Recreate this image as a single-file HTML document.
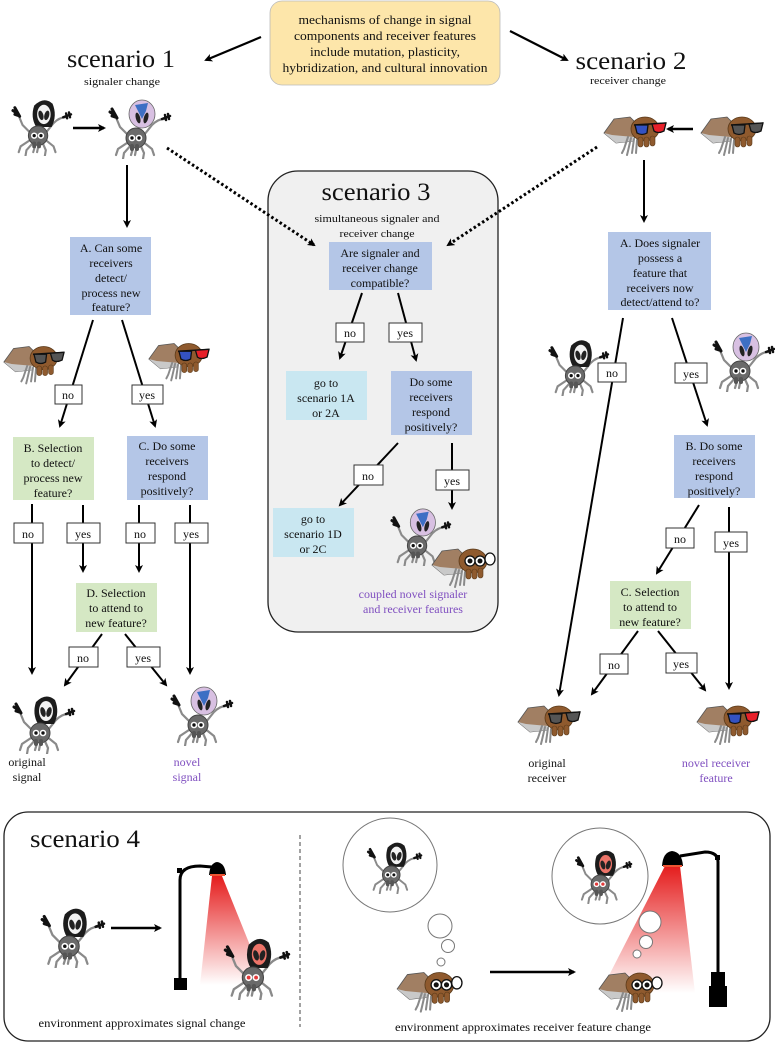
<!DOCTYPE html>
<html><head><meta charset="utf-8"><style>
html,body{margin:0;padding:0;background:#fff;}
svg{display:block;}
text{font-family:"Liberation Serif",serif;fill:#111;}
</style></head><body>
<svg width="775" height="1043" viewBox="0 0 775 1043" xmlns="http://www.w3.org/2000/svg">
<defs>
<marker id="ah" markerWidth="8" markerHeight="8" refX="6" refY="4" orient="auto" markerUnits="userSpaceOnUse">
<path d="M0,0 L8,4 L0,8 L2,4 Z" fill="#000"/></marker>
<linearGradient id="cone" x1="0" y1="0" x2="0" y2="1">
<stop offset="0" stop-color="#e51d1d"/><stop offset="1" stop-color="#e51d1d" stop-opacity="0"/></linearGradient>

<g id="legs">
<path d="M26,44 L14,52 L12,58 M28,47 L20,56 L19,62 M36,47 L40,56 L39,62 M38,44 L48,52 L50,58 M33,48 L31,58 M30,48 L27,58" stroke="#8a8a8a" stroke-width="2.2" fill="none" stroke-linecap="round"/>
<path d="M26,40 L16,30 L11,18 M40,38 L48,28 Q54,22 60,22" stroke="#8a8a8a" stroke-width="2.2" fill="none" stroke-linecap="round"/>
<path d="M8,12 L13,21 M9,17 L6,15 M11,20 L8,19" stroke="#111" stroke-width="3" stroke-linecap="round"/>
<path d="M58,22 L66,19 M61,18 L62,23 M64,17 L65,22" stroke="#111" stroke-width="2.5" stroke-linecap="round"/>
</g>
<g id="bodyN">
<circle cx="32" cy="41" r="10" fill="#6a6a6a" stroke="#444" stroke-width="1"/>
<rect x="26" y="47" width="4" height="7" rx="2" fill="#555"/><rect x="31" y="47" width="4" height="7" rx="2" fill="#555"/>
</g>
<symbol id="sigO" viewBox="0 0 68 62">
<use href="#legs"/>
<path d="M28,10 Q38,0 47,8 Q52,20 46,32 L30,32 Q24,22 28,10 Z" fill="#1c1c1c"/>
<ellipse cx="38" cy="19" rx="7" ry="10" fill="#f2f2f2"/>
<ellipse cx="35" cy="20" rx="2.5" ry="5" fill="#222" transform="rotate(-15 35 20)"/>
<ellipse cx="41" cy="20" rx="2.5" ry="5" fill="#222" transform="rotate(15 41 20)"/>
<use href="#bodyN"/>
<circle cx="28" cy="41" r="3.3" fill="#fff"/><circle cx="35" cy="41" r="3.3" fill="#fff"/>
<circle cx="28" cy="41" r="1.7" fill="#111"/><circle cx="35" cy="41" r="1.7" fill="#111"/>
</symbol>
<symbol id="sigR" viewBox="0 0 68 62">
<use href="#legs"/>
<path d="M28,10 Q38,0 47,8 Q52,20 46,32 L30,32 Q24,22 28,10 Z" fill="#1c1c1c"/>
<ellipse cx="38" cy="19" rx="7" ry="10" fill="#ec7469"/>
<ellipse cx="35" cy="20" rx="2.5" ry="5" fill="#222" transform="rotate(-15 35 20)"/>
<ellipse cx="41" cy="20" rx="2.5" ry="5" fill="#222" transform="rotate(15 41 20)"/>
<use href="#bodyN"/>
<circle cx="28" cy="41" r="3.3" fill="#fff"/><circle cx="35" cy="41" r="3.3" fill="#fff"/>
<circle cx="28" cy="41" r="1.8" fill="#e23a3a"/><circle cx="35" cy="41" r="1.8" fill="#e23a3a"/>
</symbol>
<symbol id="sigN" viewBox="0 0 68 62">
<use href="#legs"/>
<ellipse cx="38" cy="17" rx="13" ry="14" fill="#d8c0e2" stroke="#666" stroke-width="0.8"/>
<path d="M31,8 L44,6 L42,14 L38,22 L34,14 Z" fill="#3d6fc4"/>
<ellipse cx="34" cy="21" rx="2.2" ry="5.5" fill="#222" transform="rotate(-15 34 21)"/>
<ellipse cx="42" cy="21" rx="2.2" ry="5.5" fill="#222" transform="rotate(15 42 21)"/>
<use href="#bodyN"/>
<circle cx="28" cy="41" r="3.3" fill="#fff"/><circle cx="35" cy="41" r="3.3" fill="#fff"/>
<circle cx="28" cy="41" r="1.7" fill="#111"/><circle cx="35" cy="41" r="1.7" fill="#111"/>
</symbol>

<g id="rbody">
<path d="M4,22 L14,8 L30,6 L36,12 L34,30 L16,32 Z" fill="#a17f63" stroke="#555" stroke-width="0.8"/>
<path d="M4,22 L16,32 L34,30 L34,26 L12,24 Z" fill="#c9c9c9"/>
<path d="M28,26 L24,38 L22,42 M31,27 L28,40 L27,44 M34,28 L32,42 M37,29 L36,42" stroke="#8a8a8a" stroke-width="2" fill="none" stroke-linecap="round"/>
<ellipse cx="45" cy="18" rx="14" ry="12" fill="#8f5a2e" stroke="#5a3a1a" stroke-width="0.8"/>
<rect x="38" y="26" width="5" height="10" rx="2.5" fill="#8f5a2e" stroke="#5a3a1a" stroke-width="0.6"/>
<rect x="44" y="26" width="5" height="10" rx="2.5" fill="#8f5a2e" stroke="#5a3a1a" stroke-width="0.6"/>
<rect x="50" y="25" width="5" height="10" rx="2.5" fill="#8f5a2e" stroke="#5a3a1a" stroke-width="0.6"/>
</g>
<symbol id="recG" viewBox="0 0 68 46"><use href="#rbody"/>
<path d="M34,14 L66,12" stroke="#111" stroke-width="1.5"/>
<path d="M35,14 L48,14 L47,22 Q42,25 37,22 Z" fill="#555" stroke="#111" stroke-width="1.3"/>
<path d="M52,13 L66,12 L64,20 Q58,23 54,20 Z" fill="#555" stroke="#111" stroke-width="1.3"/></symbol>
<symbol id="rec3" viewBox="0 0 68 46"><use href="#rbody"/>
<path d="M34,14 L66,12" stroke="#111" stroke-width="1.5"/>
<path d="M35,14 L48,14 L47,22 Q42,25 37,22 Z" fill="#3452c2" stroke="#111" stroke-width="1.3"/>
<path d="M52,13 L66,12 L64,20 Q58,23 54,20 Z" fill="#e8202a" stroke="#111" stroke-width="1.3"/></symbol>
<symbol id="recC" viewBox="0 0 68 46"><use href="#rbody"/>
<circle cx="42" cy="18" r="5" fill="#fff" stroke="#111" stroke-width="1.3"/><circle cx="42" cy="18" r="2.5" fill="#111"/>
<circle cx="52" cy="18" r="5" fill="#fff" stroke="#111" stroke-width="1.3"/><circle cx="52" cy="18" r="2.5" fill="#111"/>
<path d="M57,16 L66,12" stroke="#111" stroke-width="1.3"/>
<ellipse cx="62" cy="16" rx="5" ry="6" fill="#fff" stroke="#111" stroke-width="1.3"/></symbol>
</defs>

<rect x="270" y="1" width="230" height="84" rx="12" fill="#fde6aa" stroke="#bbb" stroke-width="0.8"/>
<g font-size="12.5" text-anchor="middle">
<text x="385" y="24" textLength="173" lengthAdjust="spacingAndGlyphs">mechanisms of change in signal</text>
<text x="385" y="40" textLength="182" lengthAdjust="spacingAndGlyphs">components and receiver features</text>
<text x="385" y="56" textLength="150" lengthAdjust="spacingAndGlyphs">include mutation, plasticity,</text>
<text x="385" y="72" textLength="205" lengthAdjust="spacingAndGlyphs">hybridization, and cultural innovation</text>
</g>
<g stroke="#000" stroke-width="2.2" fill="none">
<line x1="261" y1="37" x2="206" y2="60" marker-end="url(#ah)"/>
<line x1="510" y1="31" x2="567" y2="60" marker-end="url(#ah)"/>
</g>
<text x="121" y="67" font-size="25" text-anchor="middle" textLength="108" lengthAdjust="spacingAndGlyphs">scenario 1</text>
<text x="122" y="85" font-size="11" text-anchor="middle" textLength="76" lengthAdjust="spacingAndGlyphs">signaler change</text>
<text x="631" y="69" font-size="25" text-anchor="middle" textLength="111" lengthAdjust="spacingAndGlyphs">scenario 2</text>
<text x="628" y="84" font-size="11" text-anchor="middle" textLength="76" lengthAdjust="spacingAndGlyphs">receiver change</text>

<use href="#sigO" x="7" y="96" width="66" height="60"/>
<use href="#sigN" x="104" y="97" width="68" height="62"/>
<line x1="73" y1="128" x2="104" y2="128" stroke="#000" stroke-width="2.5" marker-end="url(#ah)"/>
<use href="#rec3" x="600" y="111" width="68" height="46"/>
<use href="#recG" x="697" y="111" width="68" height="46"/>
<line x1="693" y1="129" x2="668" y2="129" stroke="#000" stroke-width="2.5" marker-end="url(#ah)"/>

<rect x="268" y="171" width="230" height="461" rx="30" fill="#f0f0f0" stroke="#222" stroke-width="1.3"/>
<text x="376" y="200" font-size="25" text-anchor="middle" textLength="109" lengthAdjust="spacingAndGlyphs">scenario 3</text>
<text x="377" y="222" font-size="11" text-anchor="middle" textLength="125" lengthAdjust="spacingAndGlyphs">simultaneous signaler and</text>
<text x="377" y="237" font-size="11" text-anchor="middle" textLength="75" lengthAdjust="spacingAndGlyphs">receiver change</text>

<g stroke="#000" stroke-width="3" stroke-dasharray="2.5,2.5" fill="none">
<line x1="167" y1="148" x2="314" y2="245" marker-end="url(#ah)"/>
<line x1="597" y1="147" x2="448" y2="245" marker-end="url(#ah)"/>
</g>

<g stroke="#000" stroke-width="2" fill="none">
<line x1="127" y1="165" x2="127" y2="226" marker-end="url(#ah)"/>
<line x1="644" y1="160" x2="644" y2="221" marker-end="url(#ah)"/>
</g>

<g>
<rect x="70" y="237" width="81" height="78" fill="#b4c6e7"/>
<rect x="329" y="242" width="103" height="48" fill="#b4c6e7"/>
<rect x="608" y="232" width="103" height="78" fill="#b4c6e7"/>
<rect x="13" y="437" width="81" height="63" fill="#d5e8c4"/>
<rect x="127" y="436" width="81" height="64" fill="#b4c6e7"/>
<rect x="76" y="583" width="81" height="49" fill="#d5e8c4"/>
<rect x="286" y="371" width="81" height="49" fill="#c9e7f1"/>
<rect x="391" y="371" width="81" height="64" fill="#b4c6e7"/>
<rect x="273" y="508" width="81" height="49" fill="#c9e7f1"/>
<rect x="674" y="435" width="81" height="63" fill="#b4c6e7"/>
<rect x="610" y="581" width="81" height="48" fill="#d5e8c4"/>
</g>
<g font-size="12" text-anchor="middle">
<text x="111" y="252">A. Can some</text><text x="111" y="267">receivers</text><text x="111" y="282">detect/</text><text x="111" y="297">process new</text><text x="111" y="311">feature?</text>
<text x="380" y="257">Are signaler and</text><text x="380" y="272">receiver change</text><text x="380" y="287">compatible?</text>
<text x="660" y="247">A. Does signaler</text><text x="660" y="262">possess a</text><text x="660" y="277">feature that</text><text x="660" y="292">receivers now</text><text x="660" y="306">detect/attend to?</text>
<text x="53" y="452">B. Selection</text><text x="53" y="467">to detect/</text><text x="53" y="482">process new</text><text x="53" y="497">feature?</text>
<text x="167" y="450">C. Do some</text><text x="167" y="465">receivers</text><text x="167" y="480">respond</text><text x="167" y="495">positively?</text>
<text x="116" y="597">D. Selection</text><text x="116" y="612">to attend to</text><text x="116" y="627">new feature?</text>
<text x="326" y="387">go to</text><text x="326" y="402">scenario 1A</text><text x="326" y="417">or 2A</text>
<text x="431" y="386">Do some</text><text x="431" y="401">receivers</text><text x="431" y="416">respond</text><text x="431" y="431">positively?</text>
<text x="313" y="523">go to</text><text x="313" y="538">scenario 1D</text><text x="313" y="553">or 2C</text>
<text x="714" y="450">B. Do some</text><text x="714" y="465">receivers</text><text x="714" y="480">respond</text><text x="714" y="495">positively?</text>
<text x="650" y="596">C. Selection</text><text x="650" y="611">to attend to</text><text x="650" y="626">new feature?</text>
</g>

<g stroke="#000" stroke-width="2" fill="none">
<line x1="93" y1="320" x2="60" y2="426" marker-end="url(#ah)"/>
<line x1="122" y1="320" x2="155" y2="426" marker-end="url(#ah)"/>
<line x1="32" y1="504" x2="32" y2="673" marker-end="url(#ah)"/>
<line x1="83" y1="505" x2="83" y2="571" marker-end="url(#ah)"/>
<line x1="139" y1="505" x2="139" y2="571" marker-end="url(#ah)"/>
<line x1="190" y1="505" x2="190" y2="673" marker-end="url(#ah)"/>
<line x1="102" y1="634" x2="65" y2="685" marker-end="url(#ah)"/>
<line x1="125" y1="634" x2="166" y2="685" marker-end="url(#ah)"/>
<line x1="362" y1="293" x2="340" y2="358" marker-end="url(#ah)"/>
<line x1="398" y1="293" x2="416" y2="360" marker-end="url(#ah)"/>
<line x1="398" y1="443" x2="340" y2="505" marker-end="url(#ah)"/>
<line x1="452" y1="443" x2="452" y2="508" marker-end="url(#ah)"/>
<line x1="623" y1="318" x2="559" y2="695" marker-end="url(#ah)"/>
<line x1="672" y1="318" x2="707" y2="425" marker-end="url(#ah)"/>
<line x1="699" y1="505" x2="657" y2="573" marker-end="url(#ah)"/>
<line x1="729" y1="507" x2="729" y2="688" marker-end="url(#ah)"/>
<line x1="638" y1="631" x2="592" y2="694" marker-end="url(#ah)"/>
<line x1="658" y1="631" x2="705" y2="690" marker-end="url(#ah)"/>
</g>

<g font-size="12" text-anchor="middle">
<g fill="#fff" stroke="#333" stroke-width="1">
<rect x="55" y="385" width="27" height="19"/><rect x="132" y="385" width="31" height="19"/>
<rect x="14" y="523" width="29" height="20"/><rect x="67" y="523" width="33" height="20"/>
<rect x="126" y="523" width="29" height="20"/><rect x="175" y="523" width="33" height="20"/>
<rect x="69" y="647" width="29" height="20"/><rect x="127" y="647" width="33" height="20"/>
<rect x="336" y="323" width="28" height="19"/><rect x="389" y="323" width="33" height="19"/>
<rect x="354" y="465" width="29" height="20"/><rect x="436" y="470" width="33" height="20"/>
<rect x="598" y="363" width="28" height="19"/><rect x="675" y="363" width="32" height="20"/>
<rect x="666" y="528" width="28" height="20"/><rect x="715" y="532" width="32" height="20"/>
<rect x="600" y="654" width="28" height="20"/><rect x="666" y="653" width="31" height="20"/>
</g>
<text x="68" y="399">no</text><text x="147" y="399">yes</text>
<text x="28" y="538">no</text><text x="83" y="538">yes</text>
<text x="140" y="538">no</text><text x="191" y="538">yes</text>
<text x="83" y="662">no</text><text x="143" y="662">yes</text>
<text x="350" y="337">no</text><text x="405" y="337">yes</text>
<text x="368" y="480">no</text><text x="452" y="485">yes</text>
<text x="612" y="377">no</text><text x="691" y="378">yes</text>
<text x="680" y="543">no</text><text x="731" y="547">yes</text>
<text x="614" y="669">no</text><text x="681" y="668">yes</text>
</g>

<use href="#recG" x="0" y="340" width="66" height="46"/>
<use href="#rec3" x="145" y="337" width="66" height="46"/>
<use href="#sigO" x="544" y="336" width="66" height="60"/>
<use href="#sigN" x="708" y="330" width="68" height="62"/>
<use href="#sigN" x="386" y="506" width="66" height="60"/>
<use href="#recC" x="428" y="543" width="68" height="46"/>
<text x="413" y="598" font-size="12" text-anchor="middle" style="fill:#8050c0">coupled novel signaler</text>
<text x="413" y="613" font-size="12" text-anchor="middle" style="fill:#8050c0">and receiver features</text>

<use href="#sigO" x="8" y="692" width="68" height="62"/>
<use href="#sigN" x="166" y="684" width="68" height="62"/>
<use href="#recG" x="514" y="700" width="68" height="46"/>
<use href="#rec3" x="693" y="700" width="68" height="46"/>
<g font-size="12" text-anchor="middle">
<text x="27" y="766">original</text><text x="27" y="781">signal</text>
<text x="187" y="766" style="fill:#8050c0">novel</text><text x="187" y="781" style="fill:#8050c0">signal</text>
<text x="547" y="767">original</text><text x="547" y="782">receiver</text>
<text x="716" y="767" style="fill:#8050c0">novel receiver</text><text x="716" y="782" style="fill:#8050c0">feature</text>
</g>

<rect x="4" y="812" width="766" height="229" rx="24" fill="#fff" stroke="#222" stroke-width="1.3"/>
<text x="30" y="847" font-size="25" textLength="110" lengthAdjust="spacingAndGlyphs">scenario 4</text>
<line x1="300" y1="835" x2="300" y2="1027" stroke="#444" stroke-width="1" stroke-dasharray="4,3"/>
<use href="#sigO" x="36" y="904" width="70" height="64"/>
<line x1="111" y1="928" x2="160" y2="928" stroke="#000" stroke-width="2.5" marker-end="url(#ah)"/>
<polygon points="212,876 222,876 266,985 200,985" fill="url(#cone)"/>
<path d="M180,980 L180,880 Q180,866 200,866 L212,867" stroke="#000" stroke-width="3" fill="none"/>
<rect x="177" y="868" width="5" height="5" fill="#000"/>
<path d="M209,875 Q210,863 217,862 Q225,863 226,875 Z" fill="#000"/>
<rect x="210" y="874" width="15" height="2" fill="#e53"/>
<rect x="174" y="978" width="13" height="12" fill="#000"/>
<use href="#sigR" x="219" y="934" width="72" height="66"/>
<text x="142" y="1027" font-size="12" text-anchor="middle" textLength="207" lengthAdjust="spacingAndGlyphs">environment approximates signal change</text>

<circle cx="390" cy="865" r="47" fill="#fff" stroke="#777" stroke-width="1"/>
<use href="#sigO" x="363" y="838" width="60" height="56"/>
<circle cx="440" cy="926" r="12" fill="#fff" stroke="#777"/>
<circle cx="448" cy="946" r="6.5" fill="#fff" stroke="#777"/>
<circle cx="441" cy="962" r="4" fill="#fff" stroke="#777"/>
<use href="#recC" x="393" y="966" width="70" height="48"/>
<line x1="490" y1="972" x2="574" y2="972" stroke="#000" stroke-width="2.5" marker-end="url(#ah)"/>
<polygon points="665,866 680,866 695,993 600,993" fill="url(#cone)"/>
<circle cx="600" cy="876" r="48" fill="#fff" stroke="#777" stroke-width="1"/>
<use href="#sigR" x="571" y="846" width="62" height="58"/>
<circle cx="650" cy="922" r="11" fill="#fff" stroke="#777"/>
<circle cx="646" cy="942" r="6.5" fill="#fff" stroke="#777"/>
<circle cx="637" cy="954" r="4" fill="#fff" stroke="#777"/>
<use href="#recC" x="595" y="967" width="68" height="46"/>
<path d="M718,975 L718,862 Q718,852 705,852 L680,856" stroke="#000" stroke-width="3" fill="none"/>
<rect x="715" y="855" width="5" height="5" fill="#000"/>
<path d="M662,866 Q663,852 672,851 Q682,852 683,866 Z" fill="#000"/>
<rect x="663" y="865" width="19" height="2" fill="#e53"/>
<rect x="711" y="972" width="14" height="15" fill="#000"/>
<rect x="709" y="986" width="18" height="21" fill="#000"/>
<text x="523" y="1031" font-size="12" text-anchor="middle" textLength="256" lengthAdjust="spacingAndGlyphs">environment approximates receiver feature change</text>
</svg>
</body></html>
